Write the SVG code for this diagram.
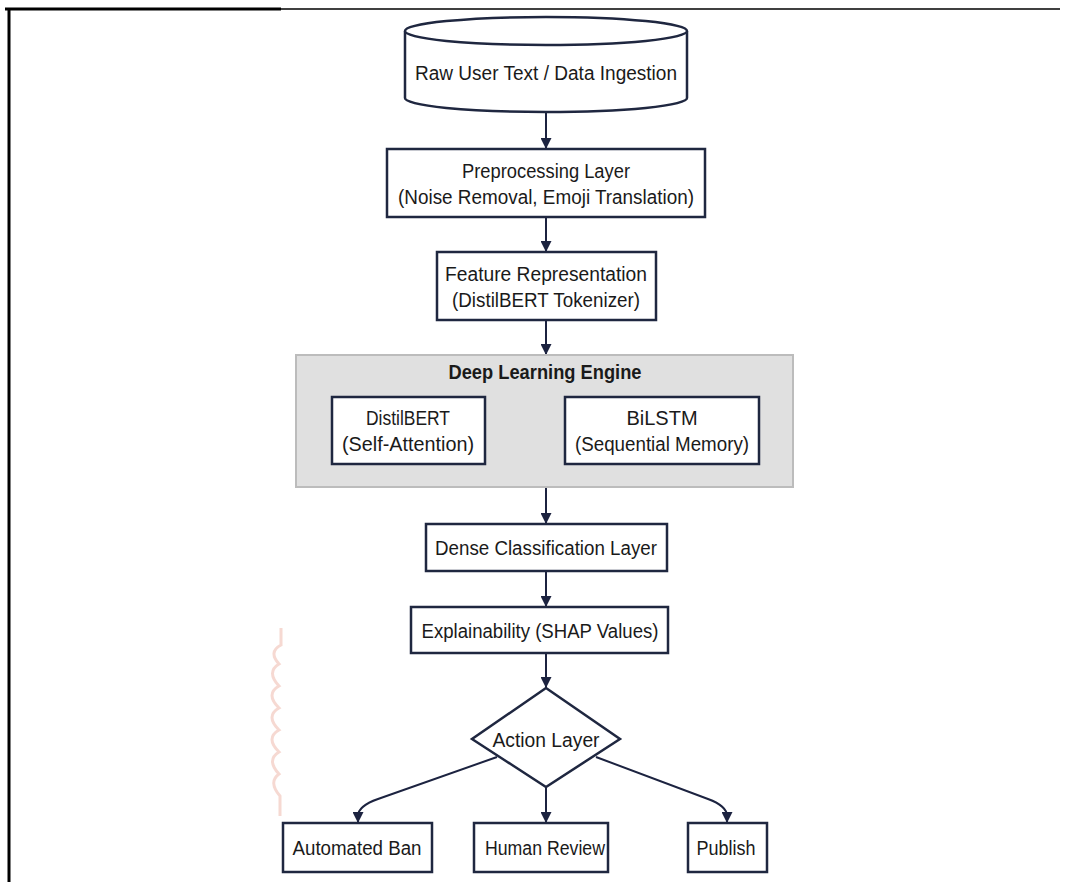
<svg xmlns="http://www.w3.org/2000/svg" width="1075" height="882" viewBox="0 0 1075 882">
<defs>
<marker id="arr" markerUnits="userSpaceOnUse" markerWidth="11" markerHeight="11" refX="10" refY="5" orient="auto" viewBox="0 0 10 10">
<path d="M0,0 L10,5 L0,10 z" fill="#1c2340"/>
</marker>
<style>
.box{fill:#ffffff;stroke:#1f2740;stroke-width:2.5}
.t{font-family:"Liberation Sans",Arial,sans-serif;font-size:20px;fill:#1a1a1a;text-anchor:middle}
.c{fill:none;stroke:#1c2340;stroke-width:2;marker-end:url(#arr)}
</style>
</defs>
<rect width="1075" height="882" fill="#ffffff"/>
<g id="frame">
<line x1="5" y1="9" x2="281" y2="9" stroke="#000" stroke-width="3"/>
<line x1="281" y1="9" x2="1060" y2="9" stroke="#000" stroke-width="1.5"/>
<line x1="9" y1="8" x2="9" y2="882" stroke="#000" stroke-width="3"/>
</g>
<g id="watermark" fill="none" stroke="#f6d9d2" stroke-width="3">
<path d="M281,628 L281,645 Q268,652 279,664 Q266,672 279,686 Q265,694 279,708 Q265,716 279,730 Q265,738 279,752 Q266,760 279,774 Q268,782 280,796 L280,816"/>
</g>
<g id="connectors">
<line class="c" x1="546" y1="112" x2="546" y2="149"/>
<line class="c" x1="546" y1="217" x2="546" y2="252"/>
<line class="c" x1="546" y1="320" x2="546" y2="355"/>
<line class="c" x1="485" y1="430" x2="565" y2="430"/>
<line class="c" x1="546" y1="487" x2="546" y2="524"/>
<line class="c" x1="546" y1="571" x2="546" y2="607"/>
<line class="c" x1="546" y1="653" x2="546" y2="688"/>
<path class="c" d="M497,757 L378,799 Q358,806 358,816 L358,823"/>
<line class="c" x1="546" y1="787" x2="546" y2="823"/>
<path class="c" d="M596,757 L708,799 Q727,806 727,816 L727,823"/>
</g>
<g id="n-ingest">
<path d="M405,31 L405,98 A141,14 0 0 0 687,98 L687,31" fill="#fff" stroke="#1f2740" stroke-width="2.5"/>
<ellipse cx="546" cy="31" rx="141" ry="14" fill="#fff" stroke="#1f2740" stroke-width="2.5"/>
<text class="t" x="546" y="80" textLength="262" lengthAdjust="spacingAndGlyphs">Raw User Text / Data Ingestion</text>
</g>
<g id="n-preproc">
<rect class="box" x="387" y="149" width="318" height="68"/>
<text class="t" x="546" y="178" textLength="168" lengthAdjust="spacingAndGlyphs">Preprocessing Layer</text>
<text class="t" x="546" y="204" textLength="296" lengthAdjust="spacingAndGlyphs">(Noise Removal, Emoji Translation)</text>
</g>
<g id="n-feature">
<rect class="box" x="437" y="252" width="219" height="68"/>
<text class="t" x="546" y="281" textLength="202" lengthAdjust="spacingAndGlyphs">Feature Representation</text>
<text class="t" x="546" y="307" textLength="188" lengthAdjust="spacingAndGlyphs">(DistilBERT Tokenizer)</text>
</g>
<g id="n-engine">
<rect x="296" y="355" width="497" height="132" fill="#e0e0e0" stroke="#bcbcbc" stroke-width="2"/>
<text class="t" x="545" y="379" font-weight="bold" textLength="193" lengthAdjust="spacingAndGlyphs">Deep Learning Engine</text>
</g>
<g id="n-distilbert">
<rect class="box" x="332" y="397" width="153" height="67"/>
<text class="t" x="408" y="425" textLength="84" lengthAdjust="spacingAndGlyphs">DistilBERT</text>
<text class="t" x="408" y="451" textLength="132" lengthAdjust="spacingAndGlyphs">(Self-Attention)</text>
</g>
<g id="n-bilstm">
<rect class="box" x="565" y="397" width="194" height="67"/>
<text class="t" x="662" y="425">BiLSTM</text>
<text class="t" x="662" y="451" textLength="174" lengthAdjust="spacingAndGlyphs">(Sequential Memory)</text>
</g>
<g id="n-dense">
<rect class="box" x="426" y="524" width="241" height="47"/>
<text class="t" x="546" y="555" textLength="222" lengthAdjust="spacingAndGlyphs">Dense Classification Layer</text>
</g>
<g id="n-explain">
<rect class="box" x="411" y="607" width="257" height="46"/>
<text class="t" x="540" y="638" textLength="237" lengthAdjust="spacingAndGlyphs">Explainability (SHAP Values)</text>
</g>
<g id="n-action">
<polygon points="546,688 620,739 546,787 472,739" fill="#fff" stroke="#1f2740" stroke-width="2.5"/>
<text class="t" x="546" y="747" textLength="107" lengthAdjust="spacingAndGlyphs">Action Layer</text>
</g>
<g id="n-ban">
<rect class="box" x="283" y="823" width="149" height="49"/>
<text class="t" x="357" y="855" textLength="129" lengthAdjust="spacingAndGlyphs">Automated Ban</text>
</g>
<g id="n-review">
<rect class="box" x="474" y="823" width="134" height="49"/>
<text class="t" x="545" y="855" textLength="120" lengthAdjust="spacingAndGlyphs">Human Review</text>
</g>
<g id="n-publish">
<rect class="box" x="688" y="823" width="79" height="49"/>
<text class="t" x="726" y="855" textLength="59" lengthAdjust="spacingAndGlyphs">Publish</text>
</g>
</svg>
